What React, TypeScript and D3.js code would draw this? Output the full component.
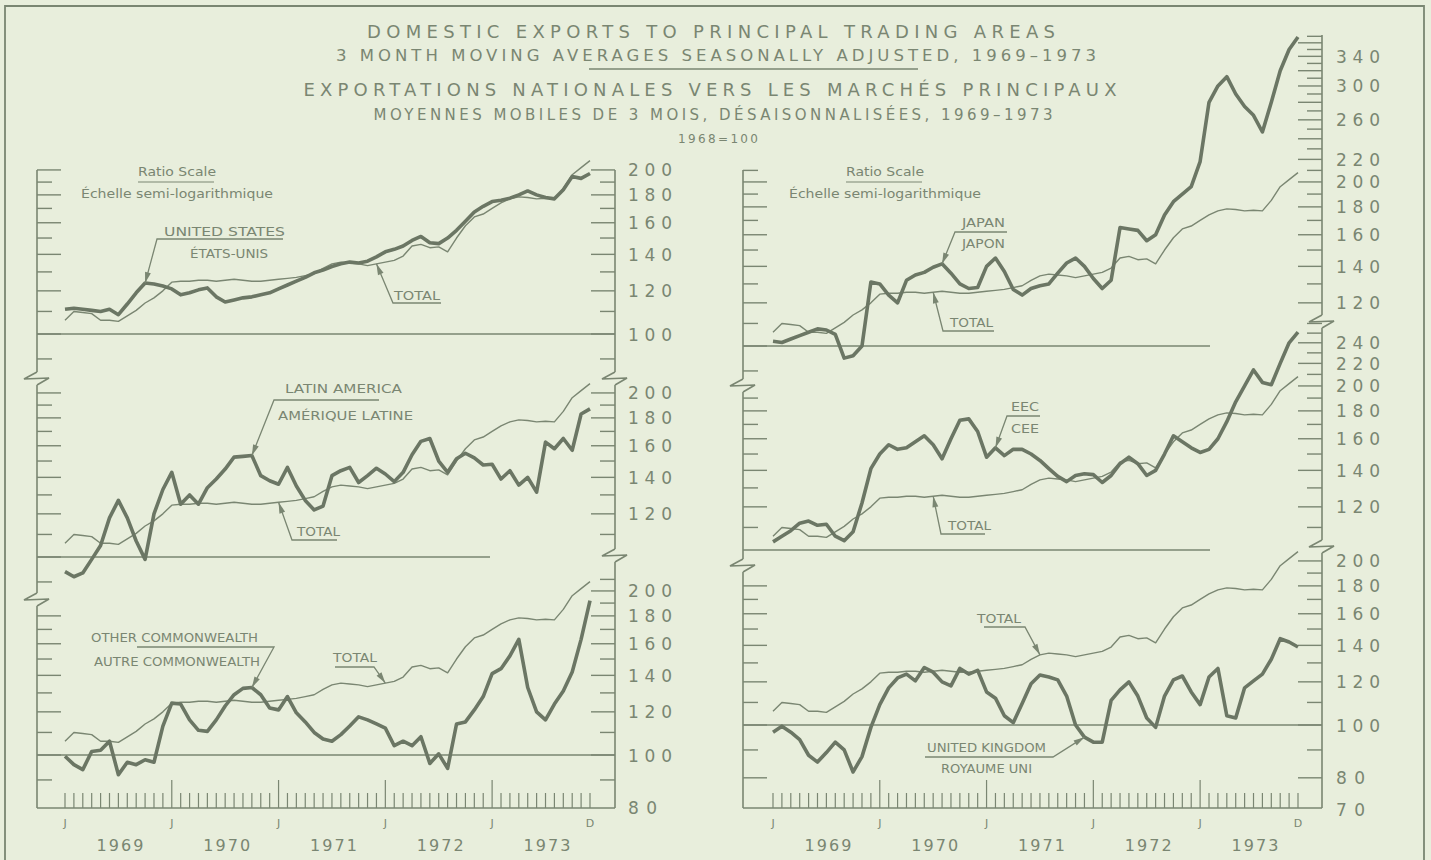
import React from 'react';
import * as d3 from 'd3';

// month index 0 = Jan 1969 ... 59 = Dec 1973
const MONTHS = d3.timeMonth.range(new Date(1969, 0, 1), new Date(1974, 0, 1));
const YEARS = ['1969', '1970', '1971', '1972', '1973'];

// 3 month moving averages, seasonally adjusted, 1968 = 100
const TOTAL = [
  106, 110, 109.5, 109, 106, 106, 105.5, 108, 110.5, 114,
  116.5, 120, 124.5, 125, 125, 125.5, 125.5, 125, 125.5, 126,
  125.5, 125, 125, 125.5, 126, 126.5, 127, 128, 129, 132,
  134.5, 135.5, 135, 134.5, 133.5, 134.5, 135.5, 136.5, 139, 145,
  146, 144, 144.5, 141.5, 150, 158, 164, 166, 170, 174,
  177, 178.5, 178, 177, 177.5, 177, 185, 196, 202, 208,
];
const UNITED_STATES = [
  111, 111.5, 111, 110.5, 110, 111, 108.5, 113.5, 119, 124,
  123.5, 122.5, 121, 118, 119, 120.5, 121.5, 117, 114.5, 115.5,
  116.5, 117, 118, 119, 121, 123, 125, 127, 129.5, 131,
  133, 134.5, 135.5, 135, 136, 138.5, 141.5, 143, 145, 148.5,
  151, 147, 146.5, 150, 155, 161, 167.5, 171.5, 175, 176,
  177.5, 180, 183, 180, 178, 177, 184, 194.5, 193, 197,
];
const LATIN_AMERICA = [
  94, 92, 93.5, 99, 105, 118, 127, 118, 107, 99,
  120, 133, 143, 125, 130, 125, 134, 139, 145, 152.5,
  153, 153.5, 141, 138, 136, 146, 135, 127, 122, 124,
  141, 144, 146, 137, 141, 145.5, 142, 137.5, 143, 154,
  163, 165, 150, 143, 151.5, 155, 152, 147.5, 148, 139,
  144, 135.5, 140, 131.5, 162.5, 158, 165, 157, 183, 187,
];
const OTHER_COMMONWEALTH = [
  99.5, 96, 94, 101.5, 102, 106, 92, 97, 96, 98,
  97, 113, 124.5, 124, 116, 111, 110.5, 116, 123, 129,
  132.5, 133, 129, 122, 121, 128, 119.5, 115, 110, 107,
  106, 109, 113, 117.5, 116, 114, 112, 104, 106, 104,
  108, 96.5, 100.5, 94.5, 114, 115, 121, 128, 141, 144,
  152, 163, 133, 120, 116, 124, 131, 142, 163, 192,
];
const JAPAN = [
  102, 101.5, 103, 104.5, 106, 107.5, 107, 105, 95, 96,
  100, 131, 130, 124, 120, 132, 135, 136.5, 139.5, 141.5,
  136, 130, 127.5, 128, 140, 145, 137, 127, 124, 127.5,
  129, 130, 136, 142, 145, 140, 133, 127.5, 132, 165,
  164, 163, 156, 160, 174, 184, 190, 196, 218, 280,
  300, 312, 290, 275, 265, 247, 280, 320, 350, 369,
];
const EEC = [
  103.5, 106, 108.5, 112, 113, 111, 111.5, 106, 104, 108,
  122, 141, 150, 156, 153, 154, 158, 162, 156, 147,
  160, 173, 174, 165, 148, 154, 149, 153, 153, 150,
  146, 141, 136.5, 133.5, 137, 138, 137.5, 133, 137, 144,
  148, 144, 137, 140, 150, 162, 158, 154, 151, 153,
  160, 172, 187, 200, 214, 203, 201, 220, 240, 251,
];
const UNITED_KINGDOM = [
  97, 99.5, 97, 94, 88, 85.5, 89, 93, 90, 82,
  87.5, 99, 109, 117, 122, 124, 120.5, 127.5, 125, 120,
  118, 127, 124, 126, 115, 112, 104, 101, 109.5, 119,
  123.5, 122.5, 121, 113, 100, 95, 93, 93, 111, 116,
  120, 113, 103, 99, 113, 121, 123, 115, 109, 122.5,
  127, 104, 103, 117, 120.5, 124, 132, 144, 142, 139,
];

const US_LABELS = [100, 120, 140, 160, 180, 200];
const LA_LABELS = [120, 140, 160, 180, 200];
const OC_LABELS = [80, 100, 120, 140, 160, 180, 200];
const JAPAN_LABELS = [120, 140, 160, 180, 200, 220, 260, 300, 340];
const EEC_LABELS = [120, 140, 160, 180, 200, 220, 240];
const UK_LABELS = [70, 80, 100, 120, 140, 160, 180, 200];

const BG = '#e8eedc';
const INK = '#7a8672';
const DARK = '#6b7664';
const FONT = 'DejaVu Sans';
const DECADE = 545; // px per log10 unit of the ratio scale
const BOTTOM = 808;

type Txt = [string, number, number, number]; // text, x, baseline, width
type Note = { texts: Txt[]; elbow: [number, number][]; tip: 'total' | 'area'; m: number };
type PanelDef = {
  area: number[];
  labels: number[];
  y100: number;
  leftTicks: [number, number];
  rightTicks: [number, number];
  base: [number, number];
  notes: Note[];
};
type ColDef = {
  x0: number; x1: number; m0: number; m1: number;
  top0: number; top1: number;
  breaks0: [number, number]; breaks1: [number, number];
  labelX: number; ratioX: number;
  panels: PanelDef[];
};

const COLUMNS: ColDef[] = [
  {
    x0: 37, x1: 615, m0: 65, m1: 590, top0: 170, top1: 170,
    breaks0: [379, 600], breaks1: [379, 556], labelX: 628, ratioX: 177,
    panels: [
      {
        area: UNITED_STATES, labels: US_LABELS, y100: 334,
        leftTicks: [90, 200], rightTicks: [90, 200], base: [37, 615],
        notes: [
          { texts: [['UNITED STATES', 164, 236, 121], ['ÉTATS-UNIS', 190, 258, 78]], elbow: [[283, 239], [157, 239]], tip: 'area', m: 9 },
          { texts: [['TOTAL', 394, 300, 46]], elbow: [[441, 303], [393, 303]], tip: 'total', m: 35 },
        ],
      },
      {
        area: LATIN_AMERICA, labels: LA_LABELS, y100: 557,
        leftTicks: [90, 200], rightTicks: [110, 200], base: [37, 490],
        notes: [
          { texts: [['LATIN AMERICA', 285, 393, 117], ['AMÉRIQUE LATINE', 278, 420, 135]], elbow: [[379, 400], [274, 400]], tip: 'area', m: 21 },
          { texts: [['TOTAL', 297, 536, 43]], elbow: [[337, 540], [292, 540]], tip: 'total', m: 24 },
        ],
      },
      {
        area: OTHER_COMMONWEALTH, labels: OC_LABELS, y100: 755,
        leftTicks: [90, 180], rightTicks: [90, 210], base: [37, 615],
        notes: [
          { texts: [['OTHER COMMONWEALTH', 91, 642, 167], ['AUTRE COMMONWEALTH', 94, 666, 166]], elbow: [[137, 647], [274, 647]], tip: 'area', m: 21 },
          { texts: [['TOTAL', 333, 662, 44]], elbow: [[335, 667], [374, 667]], tip: 'total', m: 36 },
        ],
      },
    ],
  },
  {
    x0: 743, x1: 1322, m0: 773, m1: 1298, top0: 170, top1: 35,
    breaks0: [386, 566], breaks1: [322, 547], labelX: 1336, ratioX: 885,
    panels: [
      {
        area: JAPAN, labels: JAPAN_LABELS, y100: 346,
        leftTicks: [90, 210], rightTicks: [110, 370], base: [743, 1210],
        notes: [
          { texts: [['JAPAN', 962, 227, 43], ['JAPON', 962, 248, 43]], elbow: [[1007, 232], [955, 232]], tip: 'area', m: 19 },
          { texts: [['TOTAL', 950, 327, 43]], elbow: [[994, 331], [943, 331]], tip: 'total', m: 18 },
        ],
      },
      {
        area: EEC, labels: EEC_LABELS, y100: 550,
        leftTicks: [110, 190], rightTicks: [110, 250], base: [743, 1210],
        notes: [
          { texts: [['EEC', 1011, 411, 28], ['CEE', 1011, 433, 28]], elbow: [[1040, 416], [1007, 416]], tip: 'area', m: 25 },
          { texts: [['TOTAL', 948, 530, 43]], elbow: [[985, 534], [941, 534]], tip: 'total', m: 18 },
        ],
      },
      {
        area: UNITED_KINGDOM, labels: UK_LABELS, y100: 725,
        leftTicks: [80, 180], rightTicks: [80, 200], base: [743, 1322],
        notes: [
          { texts: [['TOTAL', 977, 623, 44]], elbow: [[984, 627], [1025, 627]], tip: 'total', m: 30 },
          { texts: [['UNITED KINGDOM', 927, 752, 119], ['ROYAUME UNI', 941, 773, 91]], elbow: [[925, 757], [1053, 757]], tip: 'area', m: 35 },
        ],
      },
    ],
  },
];

const ratioScale = (y100: number) =>
  d3.scaleLog().domain([100, 1000]).range([y100, y100 - DECADE]);

function breakGlyph(x: number, b: number) {
  return `M${x},${b - 7}L${x - 13},${b}L${x + 12},${b - 1}L${x},${b + 6}`;
}

function axisLine(x: number, top: number, breaks: [number, number]) {
  const [b1, b2] = breaks;
  return `M${x},${top}V${b1 - 7}M${x},${b1 + 6}V${b2 - 7}M${x},${b2 + 6}V${BOTTOM}` +
    breakGlyph(x, b1) + breakGlyph(x, b2);
}

function arrowHead(from: [number, number], to: [number, number]) {
  const dx = to[0] - from[0];
  const dy = to[1] - from[1];
  const L = Math.hypot(dx, dy);
  const ux = dx / L, uy = dy / L;
  const nx = -uy, ny = ux;
  const bx = to[0] - ux * 11, by = to[1] - uy * 11;
  return `M${to[0]},${to[1]}L${bx + nx * 3},${by + ny * 3}L${bx - nx * 3},${by - ny * 3}Z`;
}

function Panel({ p, col, x }: { p: PanelDef; col: ColDef; x: d3.ScaleLinear<number, number> }) {
  const y = ratioScale(p.y100);
  const line = d3.line<number>().x((_, i) => x(i)).y(v => y(v));
  const tickLen = (v: number) => (v % 20 === 0 ? 24 : 15);
  const left = d3.range(p.leftTicks[0], p.leftTicks[1] + 1, 10);
  const right = d3.range(p.rightTicks[0], p.rightTicks[1] + 1, 10);
  return (
    <g>
      {left.map(v => (
        <line key={'l' + v} x1={col.x0} x2={col.x0 + tickLen(v)} y1={y(v)} y2={y(v)} stroke={INK} strokeWidth={1.4} />
      ))}
      {right.map(v => (
        <line key={'r' + v} x1={col.x1 - tickLen(v)} x2={col.x1} y1={y(v)} y2={y(v)} stroke={INK} strokeWidth={1.4} />
      ))}
      {p.labels.map(v => (
        <text key={'t' + v} x={col.labelX} y={y(v) + 6.5} fontSize={17} fill={INK}
          textLength={v >= 100 ? 44 : 29} lengthAdjust="spacing">{v}</text>
      ))}
      <line x1={p.base[0]} x2={p.base[1]} y1={y(100)} y2={y(100)} stroke={INK} strokeWidth={1.5} />
      <path d={line(TOTAL) ?? ''} fill="none" stroke={INK} strokeWidth={1.4} strokeLinejoin="round" />
      <path d={line(p.area) ?? ''} fill="none" stroke={DARK} strokeWidth={3.6} strokeLinejoin="round" />
      {p.notes.map((n, i) => {
        const s = n.tip === 'total' ? TOTAL : p.area;
        const tip: [number, number] = [x(n.m), y(s[n.m])];
        const pts = [...n.elbow, tip];
        return (
          <g key={i}>
            {n.texts.map(([t, tx, ty, w]) => (
              <text key={t} x={tx} y={ty} fontSize={13} fill={INK} textLength={w} lengthAdjust="spacingAndGlyphs">{t}</text>
            ))}
            <polyline points={pts.map(q => q.join(',')).join(' ')} fill="none" stroke={INK} strokeWidth={1.3} />
            <path d={arrowHead(n.elbow[n.elbow.length - 1], tip)} fill={INK} />
          </g>
        );
      })}
    </g>
  );
}

function Column({ col }: { col: ColDef }) {
  const x = d3.scaleLinear().domain([0, MONTHS.length - 1]).range([col.m0, col.m1]);
  return (
    <g>
      <path d={axisLine(col.x0, col.top0, col.breaks0) + axisLine(col.x1, col.top1, col.breaks1)}
        fill="none" stroke={INK} strokeWidth={1.6} />
      <line x1={col.x0} x2={col.x1} y1={BOTTOM} y2={BOTTOM} stroke={INK} strokeWidth={1.6} />
      {MONTHS.map((d, i) => (
        <line key={i} x1={x(i)} x2={x(i)} y1={BOTTOM} y2={d.getMonth() === 0 && i > 0 ? BOTTOM - 28 : BOTTOM - 15}
          stroke={INK} strokeWidth={1.2} />
      ))}
      {MONTHS.map((d, i) =>
        d.getMonth() === 0 || i === MONTHS.length - 1 ? (
          <text key={'m' + i} x={x(i)} y={827} fontSize={11} fill={INK} textAnchor="middle">
            {d.getMonth() === 0 ? 'J' : 'D'}
          </text>
        ) : null,
      )}
      {YEARS.map((yr, k) => (
        <text key={yr} x={x(k * 12 + 5.5) + 6} y={851} fontSize={16} fill={INK} textAnchor="middle"
          textLength={47} lengthAdjust="spacing">{yr}</text>
      ))}
      <text x={col.ratioX} y={176} fontSize={12.5} fill={INK} textAnchor="middle" textLength={78} lengthAdjust="spacingAndGlyphs">Ratio Scale</text>
      <line x1={col.ratioX - 39} x2={col.ratioX + 37} y1={182} y2={182} stroke={INK} strokeWidth={1} />
      <text x={col.ratioX} y={198} fontSize={12.5} fill={INK} textAnchor="middle" textLength={192} lengthAdjust="spacingAndGlyphs">Échelle semi-logarithmique</text>
      {col.panels.map((p, i) => <Panel key={i} p={p} col={col} x={x} />)}
    </g>
  );
}

export default function App() {
  return (
    <svg width={1431} height={860} style={{ position: 'absolute', left: 0, top: 0 }} fontFamily={FONT}>
      <rect width={1431} height={860} fill={BG} />
      <path d="M5,862V6H1424V862" fill="none" stroke={INK} strokeWidth={1.8} />
      <text x={711} y={38} fontSize={18} fill={INK} textAnchor="middle" textLength={688} lengthAdjust="spacing">
        DOMESTIC EXPORTS TO PRINCIPAL TRADING AREAS
      </text>
      <text x={716} y={61} fontSize={16.5} fill={INK} textAnchor="middle" textLength={760} lengthAdjust="spacing">
        3 MONTH MOVING AVERAGES SEASONALLY ADJUSTED, 1969–1973
      </text>
      <line x1={589} x2={918} y1={69} y2={69} stroke={INK} strokeWidth={1.4} />
      <text x={710} y={96} fontSize={18} fill={INK} textAnchor="middle" textLength={813} lengthAdjust="spacing">
        EXPORTATIONS NATIONALES VERS LES MARCHÉS PRINCIPAUX
      </text>
      <text x={713} y={120} fontSize={15} fill={INK} textAnchor="middle" textLength={679} lengthAdjust="spacing">
        MOYENNES MOBILES DE 3 MOIS, DÉSAISONNALISÉES, 1969–1973
      </text>
      <text x={718} y={143} fontSize={12} fill={INK} textAnchor="middle" textLength={80} lengthAdjust="spacing">
        1968=100
      </text>
      {COLUMNS.map((c, i) => <Column key={i} col={c} />)}
    </svg>
  );
}
